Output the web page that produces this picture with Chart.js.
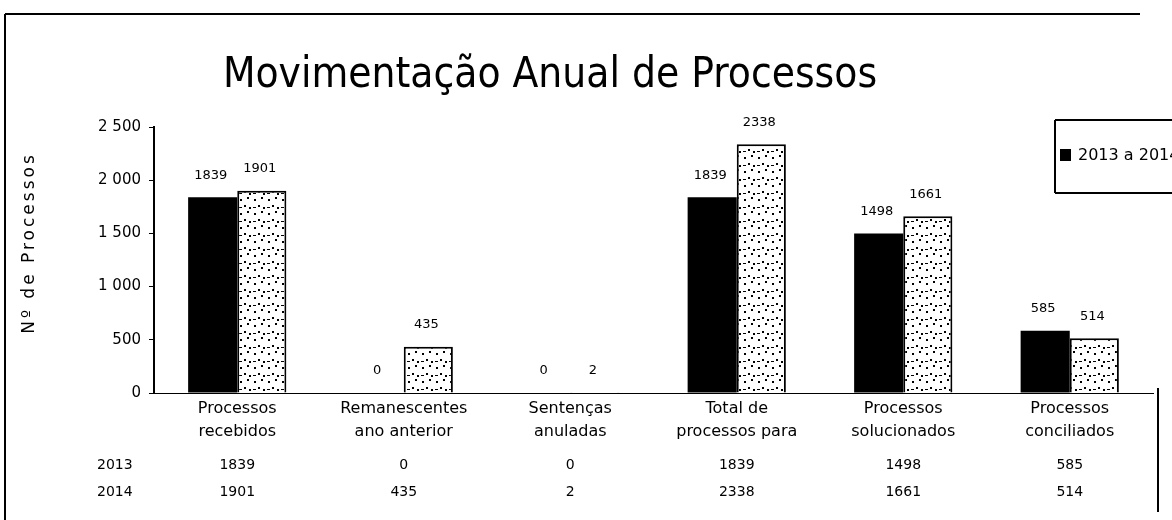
<!DOCTYPE html>
<html>
<head>
<meta charset="utf-8">
<script src="https://cdn.jsdelivr.net/npm/chart.js@4.4.1/dist/chart.umd.min.js"></script>
<style>
  html, body { margin: 0; padding: 0; background: #fff; }
  #wrap { width: 1172px; height: 520px; position: relative; }
</style>
</head>
<body>
<div id="wrap"><canvas id="proc-chart"></canvas></div>
<script>
const categories = [
  ["Processos", "recebidos"],
  ["Remanescentes", "ano anterior"],
  ["Sentenças", "anuladas"],
  ["Total de", "processos para"],
  ["Processos", "solucionados"],
  ["Processos", "conciliados"]
]
const series_names = ["2013", "2014"]
const values_2013 = [1839, 0, 0, 1839, 1498, 585]
const values_2014 = [1901, 435, 2, 2338, 1661, 514]
const y_ticks = [0, 500, 1000, 1500, 2000, 2500]

const font_main = "'DejaVu Sans', sans-serif"
const font_title = "'Liberation Sans Narrow', 'DejaVu Sans Condensed', sans-serif"

// dotted fill for the 2014 bars
function makePattern() {
  const c = document.createElement("canvas")
  c.width = 14
  c.height = 14
  const g = c.getContext("2d")
  g.fillStyle = "#fff"
  g.fillRect(0, 0, 14, 14)
  g.fillStyle = "#000"
  g.fillRect(2, 3, 2, 2)
  g.fillRect(9, 1, 2, 2)
  g.fillRect(6, 9, 2, 2)
  g.fillRect(11, 11, 2, 2)
  g.fillRect(1, 11, 3, 1)
  return g.createPattern(c, "repeat")
}

const decorPlugin = {
  id: "decor",
  afterDraw(chart) {
    const ctx = chart.ctx
    const x = chart.scales.x
    ctx.save()
    // frame remnants
    ctx.strokeStyle = "#000"
    ctx.lineWidth = 2
    ctx.beginPath()
    ctx.moveTo(5, 14); ctx.lineTo(1140, 14)
    ctx.moveTo(5, 14); ctx.lineTo(5, 520)
    ctx.moveTo(1158, 388); ctx.lineTo(1158, 512)
    ctx.stroke()

    // title
    ctx.fillStyle = "#000"
    ctx.textAlign = "center"
    ctx.textBaseline = "alphabetic"
    ctx.font = "42px " + font_title
    ctx.fillText("Movimentação Anual de Processos", 550, 87)

    ctx.textBaseline = "middle"
    // y axis title
    ctx.save()
    ctx.translate(30, 243)
    ctx.rotate(-Math.PI / 2)
    ctx.font = "17px " + font_main
    ctx.letterSpacing = "3px"
    ctx.fillText("Nº de Processos", 0, 0)
    ctx.restore()

    // value labels
    ctx.font = "13px " + font_main
    chart.data.datasets.forEach((ds, di) => {
      chart.getDatasetMeta(di).data.forEach((bar, i) => {
        ctx.fillText(String(ds.data[i]), bar.x - 2, bar.y - 22)
      })
    })

    // data table under the axis
    const rows = [values_2013, values_2014]
    const rowY = [465, 492]
    ctx.font = "14px " + font_main
    rows.forEach((row, r) => {
      ctx.textAlign = "left"
      ctx.fillText(series_names[r], 97, rowY[r])
      ctx.textAlign = "center"
      row.forEach((v, i) => {
        ctx.fillText(String(v), x.getPixelForValue(i), rowY[r])
      })
    })

    // legend (cut by the right edge)
    ctx.lineWidth = 2
    ctx.beginPath()
    ctx.moveTo(1055, 120); ctx.lineTo(1172, 120)
    ctx.moveTo(1055, 120); ctx.lineTo(1055, 193)
    ctx.moveTo(1055, 193); ctx.lineTo(1172, 193)
    ctx.stroke()
    ctx.fillRect(1060, 149, 11, 12)
    ctx.textAlign = "left"
    ctx.font = "16px " + font_main
    ctx.fillText(series_names[0] + " a " + series_names[1], 1078, 156)
    ctx.restore()
  }
}

const ctx = document.getElementById("proc-chart").getContext("2d")

new Chart(ctx, {
  type: "bar",
  data: {
    labels: categories,
    datasets: [
      {
        label: series_names[0],
        data: values_2013,
        backgroundColor: "#000",
        borderColor: "#000",
        borderWidth: 0
      },
      {
        label: series_names[1],
        data: values_2014,
        backgroundColor: makePattern(),
        borderColor: "#000",
        borderWidth: 2
      }
    ]
  },
  options: {
    responsive: true,
    maintainAspectRatio: false,
    animation: false,
    datasets: {
      bar: { categoryPercentage: 0.59, barPercentage: 1 }
    },
    layout: {
      padding: { left: 0, top: 127, right: 19, bottom: 0 }
    },
    plugins: {
      legend: { display: false },
      tooltip: { enabled: false }
    },
    scales: {
      x: {
        grid: { display: false, drawTicks: false },
        border: { display: true, color: "#000", width: 1 },
        ticks: {
          color: "#000",
          padding: 4,
          maxRotation: 0,
          autoSkip: false,
          font: { family: font_main, size: 16, lineHeight: 1.45 }
        },
        afterFit(scale) { scale.height = 127 }
      },
      y: {
        min: 0,
        max: 2500,
        afterBuildTicks(scale) { scale.ticks = y_ticks.map(v => ({ value: v })) },
        grid: { display: true, drawOnChartArea: false, drawTicks: true, tickLength: 5, color: "#000" },
        border: { display: true, color: "#000", width: 2 },
        ticks: {
          color: "#000",
          padding: 8,
          font: { family: font_main, size: 15 },
          callback: v => v >= 1000 ? String(v).replace(/(\d)(\d{3})$/, "$1 $2") : String(v)
        },
        afterFit(scale) { scale.width = 154 }
      }
    }
  },
  plugins: [decorPlugin]
})
</script>
</body>
</html>
